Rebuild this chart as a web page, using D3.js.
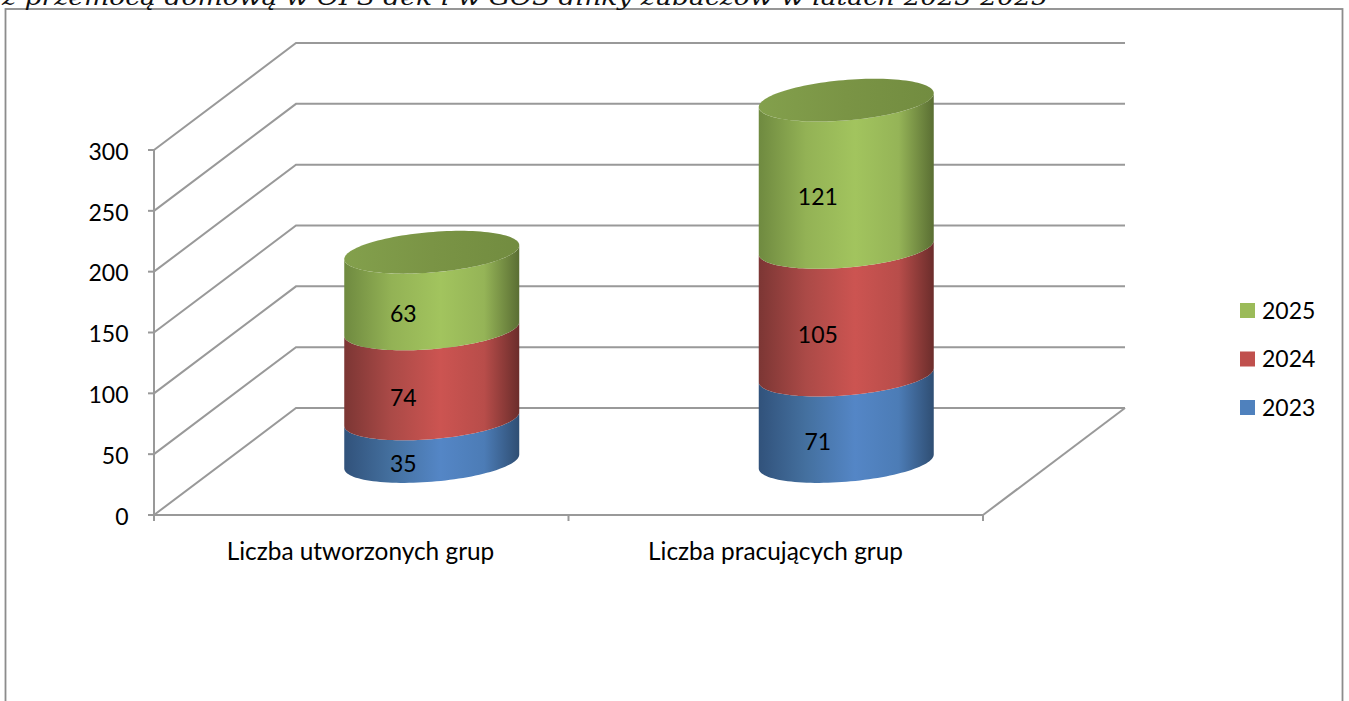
<!DOCTYPE html>
<html lang="pl"><head><meta charset="utf-8">
<script src="https://cdnjs.cloudflare.com/ajax/libs/d3/7.8.5/d3.min.js"></script>
<style>html,body{margin:0;padding:0;background:#fff;overflow:hidden}svg{display:block}</style>
</head><body><svg id="c" width="1349" height="701"></svg>
<script>
const titleText = "z przemocą domową w  OPS dek i w GOS dinky zubaczów w latach 2023-2025";
const categories = ["Liczba utworzonych grup", "Liczba pracujących grup"];
const seriesNames = ["2023", "2024", "2025"];
const values2023 = [35, 71];
const values2024 = [74, 105];
const values2025 = [63, 121];
const yTicks = [0, 50, 100, 150, 200, 250, 300];
const baseColors = ["#4f81bd", "#c0504d", "#9bbb59"];
const gradStops = [
  ["#31527b", "#44709f", "#5486c6", "#4c7cb6", "#2f4e73"],
  ["#7c3634", "#ab4a47", "#cc5451", "#b84d4a", "#6b2d2b"],
  ["#6f8a40", "#93b255", "#a2c45e", "#95b457", "#5a6e33"]
];
const gradOffsets = [0, 0.27, 0.55, 0.8, 1];
const topColors = ["#83a04c", "#7a9445", "#728c40"];

const svg = d3.select("#c");
const FONT = "Lato, Carlito, sans-serif";
const GRID = "#999999";

// frame and clipped heading
svg.append("rect").attr("x", 5.5).attr("y", 9).attr("width", 1337).attr("height", 720)
  .attr("fill", "#fff").attr("stroke", "#8c8c8c").attr("stroke-width", 1.8);
svg.append("text").attr("x", 2).attr("y", 5).attr("font-family", "'DejaVu Serif', serif")
  .attr("font-style", "italic").attr("font-size", 22).attr("fill", "#111")
  .attr("textLength", 1046).attr("lengthAdjust", "spacingAndGlyphs").text(titleText);

// projection
const y = d3.scaleLinear().domain([0, 300]).range([515, 150]);
const x = d3.scaleBand().domain(categories).range([154, 983]);
const depth = { x: 142, y: -107 };
const g = svg.append("g").attr("fill", "none").attr("stroke", GRID).attr("stroke-width", 2);

// walls
yTicks.forEach(t => {
  g.append("path").attr("d", d3.line()([[x.range()[0], y(t)], [x.range()[0] + depth.x, y(t) + depth.y], [x.range()[1] + depth.x, y(t) + depth.y]]));
});
g.append("line").attr("x1", x.range()[1]).attr("y1", y(0)).attr("x2", x.range()[1] + depth.x).attr("y2", y(0) + depth.y);
// axes
g.append("line").attr("x1", 154).attr("x2", 154).attr("y1", y(300)).attr("y2", y(0) + 6);
g.append("line").attr("x1", 148).attr("x2", x.range()[1]).attr("y1", y(0)).attr("y2", y(0));
yTicks.forEach(t => g.append("line").attr("x1", 148).attr("x2", 154).attr("y1", y(t)).attr("y2", y(t)));
[0, 1, 2].forEach(i => {
  const px = x.range()[0] + i * x.step();
  g.append("line").attr("x1", px).attr("x2", px).attr("y1", y(0)).attr("y2", y(0) + 6);
});

// tick labels
svg.append("g").selectAll("text").data(yTicks).join("text")
  .attr("x", 128.5).attr("y", d => y(d) + 1.5).attr("dy", "0.36em").attr("text-anchor", "end")
  .attr("font-family", FONT).attr("font-size", 23).attr("fill", "#000").text(d => d);
svg.append("g").selectAll("text").data(categories).join("text")
  .attr("x", (d, i) => [360.5, 775.5][i]).attr("y", 560).attr("text-anchor", "middle")
  .attr("font-family", FONT).attr("font-size", 24.4).attr("fill", "#000").text(d => d);

// gradients
const defs = svg.append("defs");
gradStops.forEach((c, i) => {
  const lg = defs.append("linearGradient").attr("id", "side" + i);
  c.forEach((col, j) => lg.append("stop").attr("offset", gradOffsets[j]).attr("stop-color", col));
});
const tg = defs.append("linearGradient").attr("id", "cap");
[[0, topColors[0]], [0.5, topColors[1]], [1, topColors[2]]].forEach(s => tg.append("stop").attr("offset", s[0]).attr("stop-color", s[1]));

// cylinders: a circle on the floor projected through the same depth direction
const r = 87.5, k = 0.2;
const vx = depth.x * k, vy = depth.y * k, ux = Math.sqrt(r * r - vx * vx);
const t0 = Math.atan2(vx, ux);
const steps = d3.range(0, 61).map(i => i / 60);
const ell = (cx, cy, t) => [cx + Math.cos(t) * ux + Math.sin(t) * vx, cy + Math.sin(t) * vy];
const frontArc = (cx, cy) => steps.map(s => ell(cx, cy, t0 - s * Math.PI));
const line = d3.line();
const series = [values2023, values2024, values2025];
const floorY = v => y(v) + depth.y / 2;

categories.forEach((cat, ci) => {
  const cx = x(cat) + x.bandwidth() / 2 + depth.x / 2 - 0.5;
  const stackTops = d3.cumsum(series.map(s => s[ci]));
  series.forEach((s, si) => {
    const lo = si ? stackTops[si - 1] : 0, hi = stackTops[si];
    const pts = frontArc(cx, floorY(hi)).slice().reverse().concat(frontArc(cx, floorY(lo)));
    svg.append("path").attr("d", line(pts) + "Z").attr("fill", `url(#side${si})`);
  });
  const top = floorY(stackTops[2]);
  svg.append("path").attr("d", line(d3.range(0, 121).map(i => ell(cx, top, i / 120 * 2 * Math.PI))) + "Z").attr("fill", "url(#cap)");
  series.forEach((s, si) => {
    const mid = (si ? stackTops[si - 1] : 0) + s[ci] / 2;
    svg.append("text").attr("x", cx - vx).attr("y", floorY(mid) - vy + 2).attr("dy", "0.36em")
      .attr("text-anchor", "middle").attr("font-family", FONT).attr("font-size", 23).attr("fill", "#000").text(s[ci]);
  });
});

// legend
const legendY = d3.scalePoint().domain(seriesNames.slice().reverse()).range([310.5, 407.5]);
seriesNames.forEach((n, i) => {
  svg.append("rect").attr("x", 1240).attr("y", legendY(n) - 7.5).attr("width", 15).attr("height", 15).attr("fill", baseColors[i]);
  svg.append("text").attr("x", 1262).attr("y", legendY(n)).attr("dy", "0.36em")
    .attr("font-family", FONT).attr("font-size", 23).attr("fill", "#000").text(n);
});
</script></body></html>
